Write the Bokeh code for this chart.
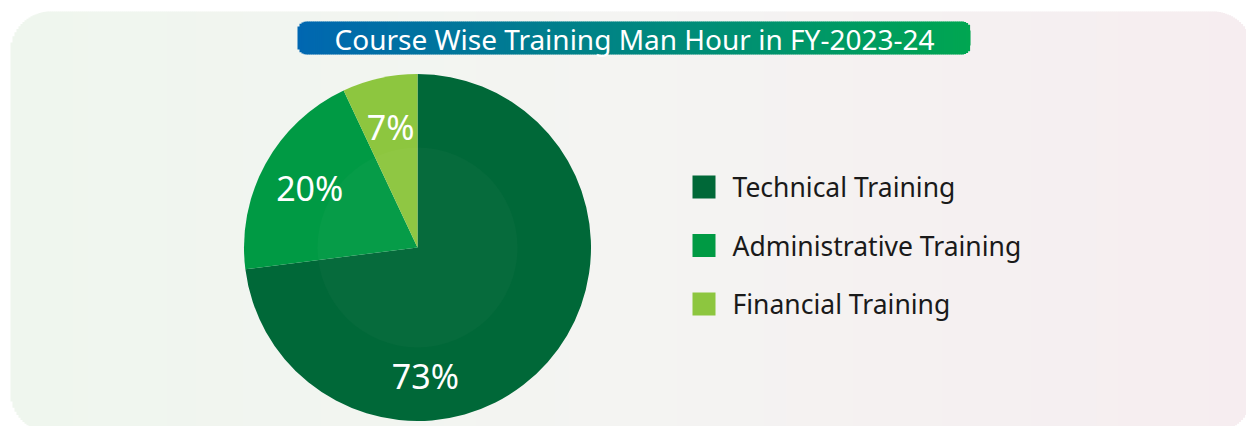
import math
import numpy as np
from bokeh.plotting import figure
from bokeh.models import Range1d, ColumnDataSource
from bokeh.core.properties import value
from bokeh.embed import file_html
from bokeh.resources import INLINE

# ---- data ----
title = "Course Wise Training Man Hour in FY-2023-24"
categories = ["Technical Training", "Administrative Training", "Financial Training"]
shares = [73, 20, 7]
colors = ["#006838", "#009a44", "#8dc63f"]
# label angle (degrees) used for each slice's percentage text
label_angles = [-86.5, None, None]

W, H = 1246, 426
p = figure(width=W, height=H, output_backend="svg", toolbar_location=None,
           x_range=Range1d(0, W), y_range=Range1d(-H, 0),
           min_border=0, outline_line_color=None, background_fill_color="white",
           border_fill_color="white")
p.axis.visible = False
p.grid.visible = False

def lerp(c1, c2, t):
    return tuple(int(round(a + (b - a) * t)) for a, b in zip(c1, c2))

def hexc(c):
    return "#%02x%02x%02x" % c

def rounded_strips(x0, x1, y0, y1, r, stops, step=2):
    L, R, T, B, C = [], [], [], [], []
    xs = np.arange(x0, x1, step)
    for x in xs:
        xc = x + step / 2
        d = min(xc - x0, x1 - xc)
        off = 0.0
        if d < r:
            off = r - math.sqrt(max(r * r - (r - d) ** 2, 0))
        t = (xc - x0) / (x1 - x0)
        for i in range(len(stops) - 1):
            p0, c0 = stops[i]
            p1, c1 = stops[i + 1]
            if p0 <= t <= p1 or i == len(stops) - 2:
                tt = min(max((t - p0) / (p1 - p0), 0), 1)
                col = lerp(c0, c1, tt)
                break
        L.append(x); R.append(min(x + step + 0.6, x1))
        T.append(-(y0 + off)); B.append(-(y1 - off)); C.append(hexc(col))
    return ColumnDataSource(dict(left=L, right=R, top=T, bottom=B, color=C))

# background card with soft gradient
bg = rounded_strips(10, 1252, 11, 432, 40,
                    [(0.0, (239, 246, 238)), (0.5, (244, 244, 242)), (1.0, (246, 237, 240))])
p.quad(left="left", right="right", top="top", bottom="bottom", fill_color="color",
       line_color=None, source=bg)

# title pill
tp = rounded_strips(297, 970, 21, 54, 9,
                    [(0.0, (0, 103, 177)), (1.0, (0, 166, 81))], step=2)
p.quad(left="left", right="right", top="top", bottom="bottom", fill_color="color",
       line_color=None, source=tp)
p.text(x=[634], y=[-38], text=[title], text_color="white",
       text_font=value("Noto Sans"), text_font_size="28px",
       text_align="center", text_baseline="middle")

# pie
cx, cy, rad = 417, -247, 173.5
total = sum(shares)
starts, ends = [], []
a = math.pi / 2
for s in shares:
    sweep = 2 * math.pi * s / total
    ends.append(a)
    starts.append(a - sweep)
    a -= sweep
p.wedge(x=[cx] * len(shares), y=[cy] * len(shares), radius=rad,
        start_angle=starts, end_angle=ends, fill_color=colors, line_color=None)
# subtle inner highlight
p.circle(x=[cx], y=[cy], radius=100, fill_color="white", fill_alpha=0.025, line_color=None)

lx, ly, lt = [], [], []
for s, st, en, la in zip(shares, starts, ends, label_angles):
    if la is None:
        ang = (st + en) / 2
        r = 123
    else:
        ang = math.radians(la)
        r = 129
    lx.append(cx + r * math.cos(ang))
    ly.append(cy + r * math.sin(ang))
    lt.append(f"{s}%")
p.text(x=lx, y=ly, text=lt, text_color="white", text_font=value("Noto Sans"),
       text_font_size="34px", text_align="center", text_baseline="middle")

# legend
n = len(categories)
ys = [-(186.5 + 58.5 * i) for i in range(n)]
p.rect(x=[703.5] * n, y=ys, width=23, height=23, fill_color=colors, line_color=None)
p.text(x=[732] * n, y=ys, text=categories, text_color="#1a1a1a",
       text_font=value("Noto Sans"), text_font_size="26.5px",
       text_align="left", text_baseline="middle")

open("out.html", "w").write(file_html(p, INLINE))
